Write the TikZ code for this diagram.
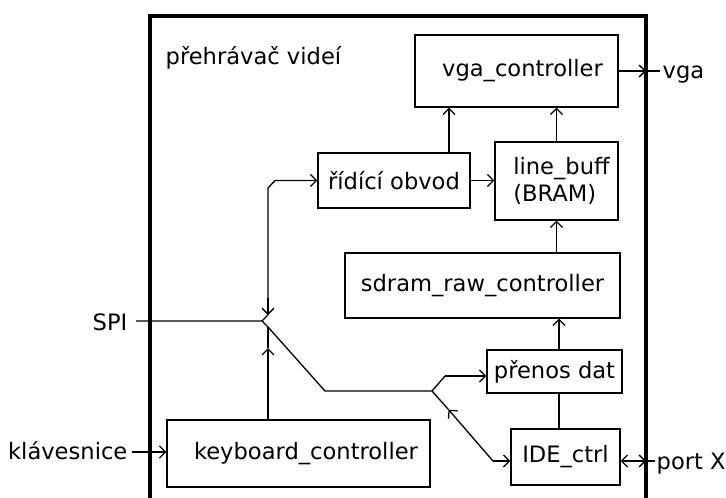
\documentclass[tikz,border=0pt]{standalone}
\usepackage{fontspec}
\setmainfont{DejaVu Sans}
\usetikzlibrary{arrows.meta}
\begin{document}
\begin{tikzpicture}[x=1pt,y=-1pt,
  line width=1.3pt,
  box/.style={draw, line width=1.3pt, rectangle, inner sep=0pt, font=\fontsize{22.6}{27.5}\selectfont},
  txt/.style={inner sep=0pt, font=\fontsize{22.6}{27.5}\selectfont},
  arr/.style={-{Straight Barb[length=6pt,width=12pt]}},
  darr/.style={{Straight Barb[length=6pt,width=12pt]}-{Straight Barb[length=6pt,width=12pt]}},
  frameline/.style={line width=3.5pt}]
\useasboundingbox (0,0) rectangle (726,498);
\clip (0,0) rectangle (726,498);
\fill[white] (0,0) rectangle (726,498);

% frame
\draw[frameline] (150,16) rectangle (646,540);

% boxes
\node[box, minimum width=203pt, minimum height=72pt] (vga) at (516.5,71) {\hspace*{12pt}\raisebox{-3pt}{vga\_controller}};
\node[box, minimum width=152pt, minimum height=55pt] (ridici) at (394,180.5) {řídící obvod};
\node[box, minimum width=123pt, minimum height=78pt, align=left] (lb) at (556.5,181) {\hspace*{10pt}line\_buff\\\hspace*{10pt}(BRAM)};
\node[box, minimum width=275pt, minimum height=65pt] (sdram) at (482.5,285.5) {sdram\_raw\_controller};
\node[box, minimum width=135pt, minimum height=43pt] (prenos) at (554.5,371.5) {přenos dat};
\node[box, minimum width=109pt, minimum height=56pt] (ide) at (565.5,457) {IDE\_ctrl};
\node[box, minimum width=263pt, minimum height=67pt] (kb) at (298.5,453.5) {\hspace*{15pt}keyboard\_controller};

% labels
\node[txt, anchor=base west] (title) at (165,64) {přehrávač videí};
\node[txt, anchor=base east] (spi) at (128,330) {SPI};
\node[txt, anchor=base east] (klav) at (128,459) {klávesnice};
\node[txt, anchor=base west] (vgal) at (662,78) {vga};
\node[txt, anchor=base west] (portx) at (656,469) {port X};

% helper coordinates
\coordinate (xa) at (268,0);
\coordinate (xb) at (449,0);
\coordinate (xc) at (559,0);
\coordinate (fr) at (646,0);
\coordinate (spistart) at (136,321);
\coordinate (spiend) at (262,321);
\coordinate (ju) at (268,315);
\coordinate (jd) at (268,327);
\coordinate (ubend) at (268,188);
\coordinate (ubend2) at (275,180.5);
\coordinate (utip) at (268,298);
\coordinate (kbtip) at (268,348);
\coordinate (d1) at (325,391);
\coordinate (j2) at (432,391);
\coordinate (j2u) at (445,376);
\coordinate (d2) at (493,461);
\coordinate (dtip) at (448.5,409.6);
\coordinate (vgaport) at (660,71);
\coordinate (kin) at (132,452);
\coordinate (pin) at (655,461);

% SPI bus
\draw (spistart) -- (spiend) -- (ju);
\draw (spiend) -- (jd);
\draw[arr] (ju) -- (ubend) -- (ubend2) -- (ridici.west);
\draw[arr] (utip) -- (ju);
\draw[arr] (xa |- kb.north) -- (kbtip);
\draw (kbtip) -- (jd);
\draw (jd) -- (d1) -- (j2) -- (j2u);
\draw[arr] (j2u) -- (prenos.west |- j2u);
\draw[arr] (d2) -- (ide.west |- d2);
\draw (j2) -- (dtip);
\draw[arr] (d2) -- (dtip);

% internal connections
\draw[arr] (xb |- ridici.north) -- (xb |- vga.south);
\draw[arr] (lb.north) -- (lb.north |- vga.south);
\draw[arr] (ridici.east) -- (lb.west |- ridici.east);
\draw[arr] (lb.south |- sdram.north) -- (lb.south);
\draw[arr] (xc |- prenos.north) -- (xc |- sdram.south);
\draw (xc |- prenos.south) -- (xc |- ide.north);

% ports
\draw[arr] (vga.east) -- (fr |- vga.east);
\draw (fr |- vga.east) -- (vgaport);
\draw[arr] (kin) -- (kb.west |- kin);
\draw[darr] (ide.east |- pin) -- (fr |- pin);
\draw (fr |- pin) -- (pin);
\end{tikzpicture}
\end{document}
